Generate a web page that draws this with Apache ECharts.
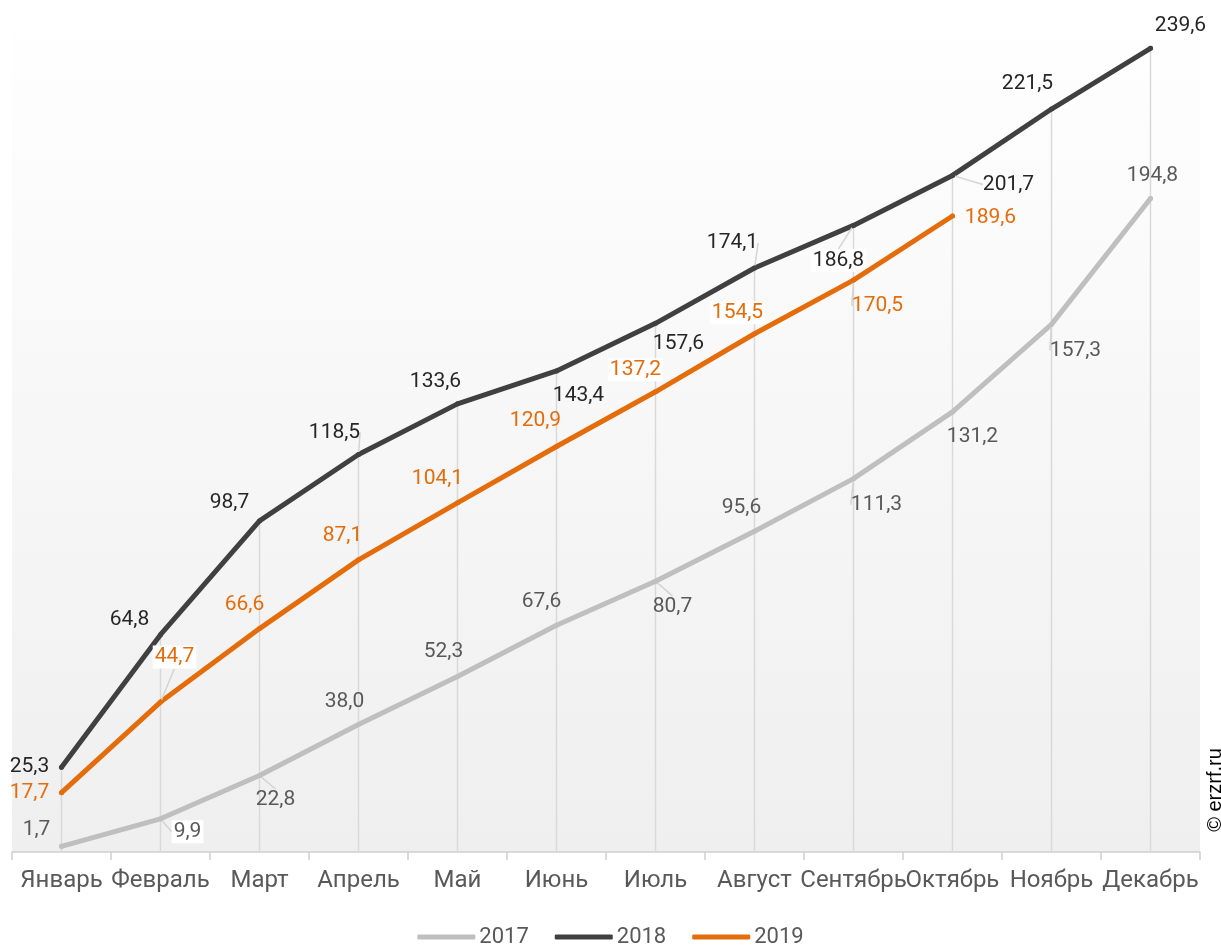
<!DOCTYPE html>
<html>
<head>
<meta charset="utf-8">
<script src="https://cdn.jsdelivr.net/npm/echarts@6/dist/echarts.min.js"></script>
<style>
html,body{margin:0;padding:0;background:#fff;}
#chart{width:1221px;height:945px;}
</style>
</head>
<body>
<div id="chart"></div>
<script>
// ---- data ----
const categories = ['Январь','Февраль','Март','Апрель','Май','Июнь','Июль','Август','Сентябрь','Октябрь','Ноябрь','Декабрь'];
const values2017 = [1.7, 9.9, 22.8, 38.0, 52.3, 67.6, 80.7, 95.6, 111.3, 131.2, 157.3, 194.8];
const values2018 = [25.3, 64.8, 98.7, 118.5, 133.6, 143.4, 157.6, 174.1, 186.8, 201.7, 221.5, 239.6];
const values2019 = [17.7, 44.7, 66.6, 87.1, 104.1, 120.9, 137.2, 154.5, 170.5, 189.6];
const seriesNames = ['2017', '2018', '2019'];
const watermark = '© erzrf.ru';

// ---- label placement (pixel offsets from the point) ----
const labelOffsets = [
  [[-25,-17],[27,13],[16,24],[-14,-23],[-14,-25],[-15,-23],[17,25],[-13,-24],[23,26],[20,25],[24,26],[2,-23]],
  [[-32,0],[-31,-15],[-30,-18],[-24,-22],[-22,-22],[22,25],[23,20],[-22,-25],[-15,35],[56,9],[-24,-25],[30,-23]],
  [[-32,0],[14,-45],[-15,-24],[-16,-24],[-20,-24],[-21,-26],[-20,-22],[-17,-21],[24,26],[38,2]]
];
const leaderLines = [[1,2,6,8,10],[3,7,8,9],[1,8]];
const boxedLabels = [[1],[8],[1,6,7]];
const lineColors = ['#BFBFBF', '#404040', '#E46C0A'];
const labelColors = ['#595959', '#262626', '#E46C0A'];

const fmt = v => v.toFixed(1).replace('.', ',');

function buildLine(idx, values) {
  return {
    name: seriesNames[idx],
    type: 'line',
    z: 3 + idx,
    data: values.map((v, i) => {
      const item = { value: v };
      if (leaderLines[idx].includes(i)) {
        item.labelLine = { show: true };
      }
      if (boxedLabels[idx].includes(i)) {
        item.label = { backgroundColor: '#ffffff', padding: [1, 2] };
      }
      return item;
    }),
    symbol: 'circle',
    symbolSize: 5,
    showAllSymbol: true,
    itemStyle: { color: lineColors[idx] },
    lineStyle: { color: lineColors[idx], width: 5, cap: 'round', join: 'round' },
    label: {
      show: true,
      formatter: p => fmt(p.value),
      color: labelColors[idx],
      fontFamily: 'Roboto',
      fontSize: 21
    },
    labelLine: {
      show: false,
      lineStyle: { color: '#d4d4d4', width: 1.5 }
    },
    labelLayout: function (p) {
      const o = labelOffsets[idx][p.dataIndex] || [0, -22];
      return {
        x: p.rect.x + p.rect.width / 2 + o[0],
        y: p.rect.y + p.rect.height / 2 + o[1],
        align: 'center',
        verticalAlign: 'middle',
        hideOverlap: false
      };
    },
    emphasis: { disabled: true },
    animation: false
  };
}

const chart = echarts.init(document.getElementById('chart'), null, { renderer: 'canvas' });
chart.setOption({
  animation: false,
  backgroundColor: '#ffffff',
  grid: {
    left: 12, right: 21, top: 0, bottom: 93,
    show: true,
    borderWidth: 0,
    backgroundColor: new echarts.graphic.LinearGradient(0, 0, 0, 1, [
      { offset: 0, color: '#ffffff' },
      { offset: 1, color: '#efefef' }
    ])
  },
  legend: {
    data: seriesNames,
    left: 'center',
    top: 921,
    icon: 'roundRect',
    itemWidth: 58,
    itemHeight: 5,
    itemGap: 26,
    textStyle: { color: '#595959', fontSize: 22, fontFamily: 'Roboto', padding: [0, 0, 0, -1] }
  },
  xAxis: {
    type: 'category',
    data: categories,
    boundaryGap: true,
    axisLine: { lineStyle: { color: '#d0d0d0', width: 1.5 } },
    axisTick: { show: true, length: 8, lineStyle: { color: '#d0d0d0', width: 1.5 } },
    axisLabel: { interval: 0, color: '#595959', fontSize: 24, fontFamily: 'Roboto', margin: 17 },
    splitLine: { show: false }
  },
  yAxis: {
    type: 'value',
    min: 0,
    max: 254,
    show: false,
    splitLine: { show: false }
  },
  graphic: [{
    type: 'text',
    x: 1215,
    y: 790,
    rotation: Math.PI / 2,
    style: {
      text: watermark,
      font: '20px "Liberation Sans"',
      fill: '#000000',
      align: 'center',
      verticalAlign: 'middle'
    },
    z: 10
  }],
  series: [
    buildLine(0, values2017),
    buildLine(1, values2018),
    buildLine(2, values2019),
    {
      name: 'drop',
      type: 'bar',
      data: values2018,
      barWidth: 1.5,
      itemStyle: { color: '#d9d9d9' },
      silent: true,
      z: 1,
      emphasis: { disabled: true },
      animation: false
    }
  ]
});
</script>
</body>
</html>
